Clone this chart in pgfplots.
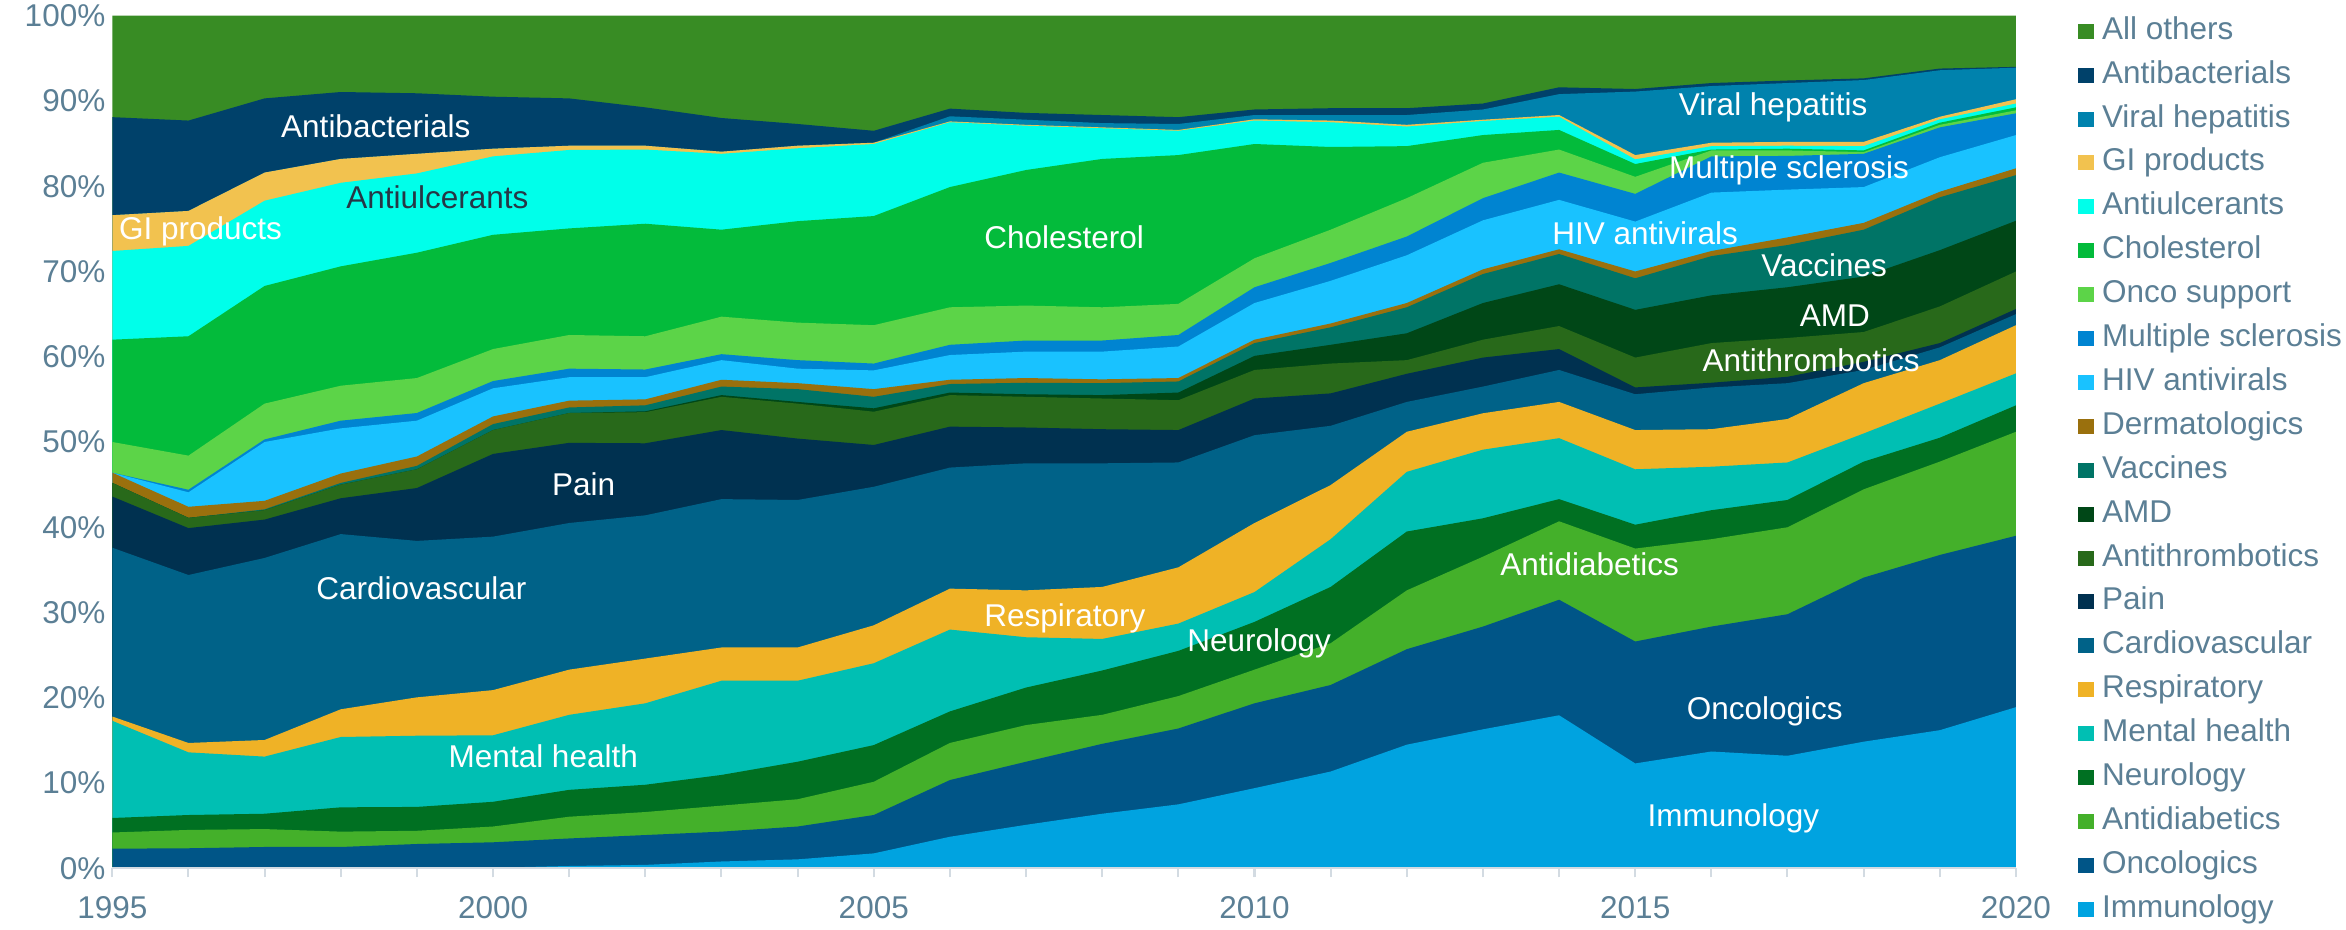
\documentclass[border=0pt]{standalone}
\usepackage{fontspec}
\setmainfont{Liberation Sans}
\usepackage{pgfplots}
\usepackage{pgfplotstable}
\pgfplotsset{compat=1.18}
\definecolor{cAll}{HTML}{388C24}
\definecolor{cAbx}{HTML}{00416A}
\definecolor{cVH}{HTML}{0082AD}
\definecolor{cGI}{HTML}{F2C24F}
\definecolor{cAul}{HTML}{00FFEA}
\definecolor{cCho}{HTML}{03BB3B}
\definecolor{cOns}{HTML}{5CD448}
\definecolor{cMS}{HTML}{0084D1}
\definecolor{cHIV}{HTML}{19C2FF}
\definecolor{cDer}{HTML}{9A700D}
\definecolor{cVac}{HTML}{007466}
\definecolor{cAMD}{HTML}{004717}
\definecolor{cAth}{HTML}{28691A}
\definecolor{cPai}{HTML}{003150}
\definecolor{cCar}{HTML}{006288}
\definecolor{cRes}{HTML}{EFB226}
\definecolor{cMen}{HTML}{00BFB3}
\definecolor{cNeu}{HTML}{007022}
\definecolor{cAdb}{HTML}{44B02A}
\definecolor{cOnc}{HTML}{005587}
\definecolor{cImm}{HTML}{00A3E0}
\definecolor{textgray}{HTML}{5B7F95}
\definecolor{axgray}{HTML}{D3DBE2}
\definecolor{darklbl}{HTML}{263746}
\tikzset{lbl/.style={font=\fontsize{9.45}{11}\selectfont, text=white, inner sep=0pt, text height=6.77pt, text depth=0pt}}
% cumulative upper boundary (in %) of each layer, bottom to top
\pgfplotstableread{
year Imm Onc Adb Neu Men Res Car Pai Ath AMD Vac Der HIV MS Ons Cho Aul GI VH Abx All
1995 0 2.3 4.2 5.9 17.3 17.8 37.6 43.6 45.2 45.2 45.2 46.4 46.4 46.4 50.0 62.0 72.4 76.6 76.6 88.1 100
1996 0 2.35 4.5 6.25 13.6 14.7 34.4 39.9 41.1 41.1 41.1 42.4 44.1 44.4 48.4 62.4 73.0 77.1 77.1 87.7 100
1997 0 2.5 4.6 6.4 13.1 15.05 36.4 40.9 42.0 42.0 42.1 43.1 50.0 50.3 54.5 68.3 78.3 81.6 81.6 90.3 100
1998 0 2.5 4.3 7.15 15.4 18.65 39.2 43.4 45.0 45.0 45.2 46.3 51.6 52.5 56.6 70.6 80.4 83.2 83.2 91.05 100
1999 0.1 2.85 4.4 7.2 15.55 20.05 38.4 44.6 46.8 46.8 47.2 48.3 52.5 53.4 57.5 72.2 81.5 83.8 83.8 90.9 100
2000 0.07 3.05 4.9 7.8 15.6 20.9 38.9 48.6 51.4 51.4 52.1 53.0 56.3 57.15 60.9 74.3 83.5 84.4 84.4 90.5 100
2001 0.27 3.5 6.05 9.2 18.0 23.3 40.5 49.9 53.4 53.4 54.05 54.85 57.6 58.6 62.55 75.05 84.25 84.75 84.75 90.3 100
2002 0.4 3.9 6.6 9.8 19.35 24.6 41.4 49.85 53.5 53.6 54.3 55.0 57.6 58.5 62.4 75.6 84.3 84.75 84.75 89.25 100
2003 0.8 4.3 7.35 10.95 22.0 25.9 43.3 51.4 55.3 55.5 56.5 57.3 59.6 60.3 64.7 74.9 83.8 84.05 84.05 88.0 100
2004 1.05 4.9 8.1 12.5 22.0 25.9 43.2 50.4 54.5 54.7 56.2 56.9 58.6 59.6 64.0 75.9 84.45 84.75 84.75 87.3 100
2005 1.75 6.25 10.15 14.45 24.05 28.5 44.75 49.65 53.55 53.95 55.3 56.2 58.4 59.2 63.7 76.5 84.95 85.1 85.1 86.5 100
2006 3.7 10.35 14.7 18.4 28.0 32.8 47.0 51.8 55.5 55.8 56.8 57.3 60.2 61.4 65.8 79.9 87.5 87.6 88.2 89.1 100
2007 5.1 12.5 16.8 21.2 27.1 32.6 47.5 51.7 55.3 55.6 56.95 57.5 60.6 61.9 66.0 81.9 87.1 87.2 87.8 88.6 100
2008 6.4 14.6 18.0 23.2 26.9 33.0 47.5 51.5 55.1 55.5 56.9 57.35 60.6 61.9 65.8 83.2 86.8 86.9 87.4 88.35 100
2009 7.5 16.4 20.2 25.5 28.7 35.3 47.6 51.4 54.9 55.8 57.1 57.5 61.2 62.55 66.2 83.65 86.5 86.6 87.3 88.1 100
2010 9.4 19.35 23.3 28.9 32.4 40.5 50.8 55.1 58.45 60.1 61.6 62.0 66.3 68.15 71.55 84.95 87.7 87.85 88.35 89.0 100
2011 11.35 21.5 26.4 33.0 38.6 44.95 51.9 55.7 59.2 61.4 63.45 63.9 68.9 71.0 74.9 84.6 87.5 87.7 88.35 89.15 100
2012 14.5 25.7 32.6 39.5 46.5 51.2 54.7 58.0 59.6 62.75 65.8 66.3 71.9 74.1 78.6 84.7 87.0 87.2 88.35 89.15 100
2013 16.3 28.35 36.55 41.05 49.1 53.37 56.5 59.9 62.0 66.3 69.7 70.25 76.0 78.6 82.75 86.0 87.65 87.8 89.0 89.7 100
2014 17.95 31.5 40.7 43.3 50.45 54.7 58.45 60.9 63.6 68.5 72.05 72.6 78.4 81.6 84.3 86.6 88.15 88.35 90.8 91.6 100
2015 12.3 26.6 37.5 40.3 46.8 51.4 55.6 56.4 59.9 65.5 69.2 70.0 75.85 79.1 81.1 82.6 83.15 83.65 91.1 91.4 100
2016 13.7 28.35 38.6 42.0 47.1 51.5 56.4 56.95 61.6 67.2 71.8 72.4 79.25 83.5 84.2 84.3 84.7 85.1 91.75 92.1 100
2017 13.2 29.8 40.0 43.2 47.6 52.7 56.9 57.65 62.2 68.15 73.1 74.0 79.6 83.55 84.2 84.4 84.75 85.2 92.1 92.4 100
2018 14.85 34.1 44.45 47.7 51.0 56.9 58.45 59.4 62.9 69.4 74.9 75.7 79.9 83.8 84.0 84.2 84.7 85.2 92.45 92.65 100
2019 16.2 36.75 47.7 50.5 54.5 59.6 61.1 61.6 65.9 72.5 78.7 79.35 83.4 86.9 87.2 87.45 87.85 88.15 93.6 93.8 100
2020 18.9 39.0 51.2 54.3 58.05 63.7 65.0 65.6 70.0 75.95 81.3 82.1 86.0 88.55 88.9 89.25 89.7 90.2 93.9 94.0 100
}\shares
\begin{document}
\begin{tikzpicture}
\useasboundingbox (-33.69pt,-18.21pt) rectangle (670.11pt,260.49pt);
\begin{axis}[
  at={(0pt,0pt)}, anchor=south west,
  width=571.1pt, height=255.78pt, scale only axis,
  xmin=1995, xmax=2020, ymin=0, ymax=100,
  axis on top,
  axis lines*=left, separate axis lines,
  x axis line style={draw=axgray, line width=0.6pt},
  y axis line style={draw=none},
  xtick={1995,2000,...,2020},
  minor xtick={1996,...,2019},
  ytick={0,10,...,100},
  tick align=outside,
  major tick length=2.7pt, minor tick length=2.7pt,
  xtick style={draw=axgray, line width=0.6pt},
  every minor tick/.append style={draw=axgray, line width=0.6pt},
  ytick style={draw=none},
  yticklabel={\pgfmathprintnumber{\tick}\%},
  tick label style={font=\fontsize{9.45}{11}\selectfont, text=textgray},
  yticklabel style={inner sep=0pt, anchor=east, xshift=0.8pt},
  xticklabel style={inner sep=0pt, anchor=north, yshift=-5.7pt},
  /pgf/number format/1000 sep={},
  /pgf/number format/assume math mode=true,
  legend cell align=left,
  legend image code/.code={\fill[#1] (0pt,-2.25pt) rectangle (4.7pt,2.25pt);},
  legend style={at={(1.0326,0.999)}, anchor=north west, draw=none, fill=none,
    inner sep=0pt, outer sep=0pt, row sep=4.37pt, column sep=2.5pt,
    font=\fontsize{9.45}{11}\selectfont, text=textgray,
    nodes={inner sep=0pt, text height=6.8pt, text depth=2pt}},
]
\addplot[fill=cAll, draw=none] table[x=year, y=All] {\shares} \closedcycle;
\addlegendentry{All others}
\addplot[fill=cAbx, draw=none] table[x=year, y=Abx] {\shares} \closedcycle;
\addlegendentry{Antibacterials}
\addplot[fill=cVH, draw=none] table[x=year, y=VH] {\shares} \closedcycle;
\addlegendentry{Viral hepatitis}
\addplot[fill=cGI, draw=none] table[x=year, y=GI] {\shares} \closedcycle;
\addlegendentry{GI products}
\addplot[fill=cAul, draw=none] table[x=year, y=Aul] {\shares} \closedcycle;
\addlegendentry{Antiulcerants}
\addplot[fill=cCho, draw=none] table[x=year, y=Cho] {\shares} \closedcycle;
\addlegendentry{Cholesterol}
\addplot[fill=cOns, draw=none] table[x=year, y=Ons] {\shares} \closedcycle;
\addlegendentry{Onco support}
\addplot[fill=cMS, draw=none] table[x=year, y=MS] {\shares} \closedcycle;
\addlegendentry{Multiple sclerosis}
\addplot[fill=cHIV, draw=none] table[x=year, y=HIV] {\shares} \closedcycle;
\addlegendentry{HIV antivirals}
\addplot[fill=cDer, draw=none] table[x=year, y=Der] {\shares} \closedcycle;
\addlegendentry{Dermatologics}
\addplot[fill=cVac, draw=none] table[x=year, y=Vac] {\shares} \closedcycle;
\addlegendentry{Vaccines}
\addplot[fill=cAMD, draw=none] table[x=year, y=AMD] {\shares} \closedcycle;
\addlegendentry{AMD}
\addplot[fill=cAth, draw=none] table[x=year, y=Ath] {\shares} \closedcycle;
\addlegendentry{Antithrombotics}
\addplot[fill=cPai, draw=none] table[x=year, y=Pai] {\shares} \closedcycle;
\addlegendentry{Pain}
\addplot[fill=cCar, draw=none] table[x=year, y=Car] {\shares} \closedcycle;
\addlegendentry{Cardiovascular}
\addplot[fill=cRes, draw=none] table[x=year, y=Res] {\shares} \closedcycle;
\addlegendentry{Respiratory}
\addplot[fill=cMen, draw=none] table[x=year, y=Men] {\shares} \closedcycle;
\addlegendentry{Mental health}
\addplot[fill=cNeu, draw=none] table[x=year, y=Neu] {\shares} \closedcycle;
\addlegendentry{Neurology}
\addplot[fill=cAdb, draw=none] table[x=year, y=Adb] {\shares} \closedcycle;
\addlegendentry{Antidiabetics}
\addplot[fill=cOnc, draw=none] table[x=year, y=Onc] {\shares} \closedcycle;
\addlegendentry{Oncologics}
\addplot[fill=cImm, draw=none] table[x=year, y=Imm] {\shares} \closedcycle;
\addlegendentry{Immunology}

\node[lbl] at (axis cs:1998.46,87.05) {Antibacterials};
\node[lbl, anchor=west] at (axis cs:1995.08,75.1) {GI products};
\node[lbl, text=darklbl] at (axis cs:1999.27,78.7) {Antiulcerants};
\node[lbl] at (axis cs:2007.50,74.0) {Cholesterol};
\node[lbl] at (axis cs:2001.19,45.0) {Pain};
\node[lbl] at (axis cs:1999.06,32.9) {Cardiovascular};
\node[lbl] at (axis cs:2000.66,13.1) {Mental health};
\node[lbl] at (axis cs:2007.51,29.7) {Respiratory};
\node[lbl] at (axis cs:2010.06,26.8) {Neurology};
\node[lbl] at (axis cs:2014.40,35.7) {Antidiabetics};
\node[lbl] at (axis cs:2015.13,74.5) {HIV antivirals};
\node[lbl] at (axis cs:2016.81,89.6) {Viral hepatitis};
\node[lbl] at (axis cs:2017.02,82.2) {Multiple sclerosis};
\node[lbl] at (axis cs:2017.48,70.7) {Vaccines};
\node[lbl] at (axis cs:2017.62,64.9) {AMD};
\node[lbl] at (axis cs:2017.31,59.6) {Antithrombotics};
\node[lbl] at (axis cs:2016.70,18.8) {Oncologics};
\node[lbl] at (axis cs:2016.29,6.25) {Immunology};
\end{axis}
\end{tikzpicture}
\end{document}
